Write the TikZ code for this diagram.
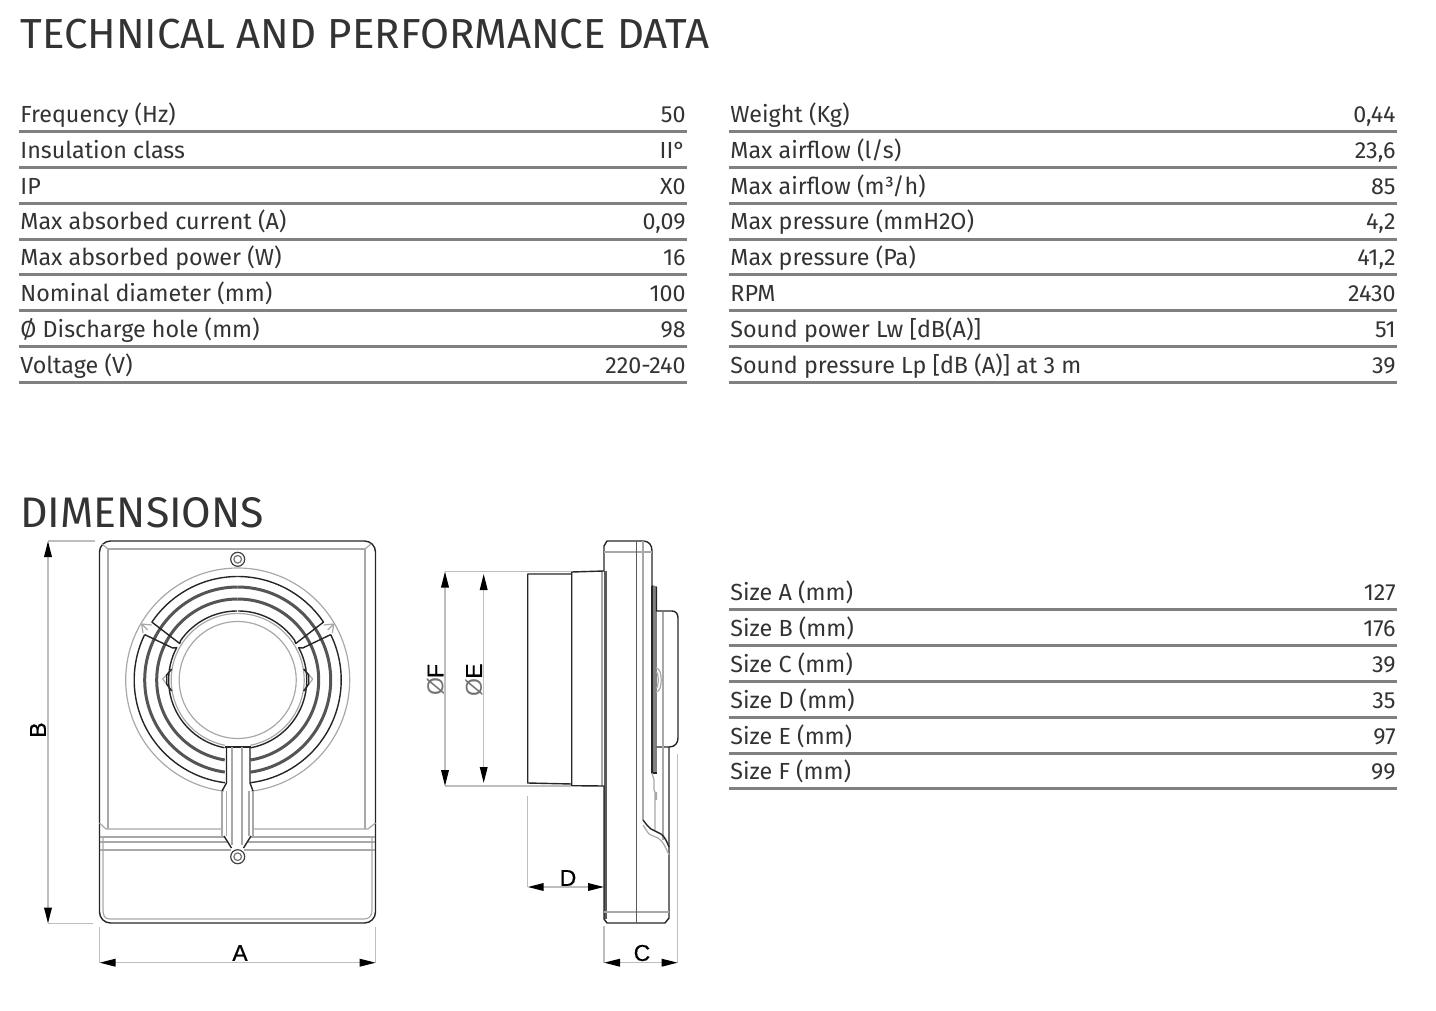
\documentclass[tikz,border=0pt]{standalone}
\usepackage{fontspec}
\setmainfont{Fira Sans}
\newfontfamily\dimfont[FakeBold=0.6]{Liberation Sans}
\newfontfamily\slashfont{Liberation Sans}
\usetikzlibrary{arrows.meta}
\definecolor{ink}{HTML}{333333}
\definecolor{rulegrey}{HTML}{808080}
\definecolor{lgrey}{HTML}{A8A8A8}
\definecolor{dimgrey}{HTML}{BEBEBE}
\definecolor{ringdark}{HTML}{555555}
\definecolor{banddark}{HTML}{5A5A5A}
\definecolor{bandmid}{HTML}{808080}
\newcommand{\rowname}[6]{%
  \node[rowlabel] (#1l) at (#2,#3+#4) {#5};
  \node[rowvalue] (#1v) at (#2+666,#3+#4) {#6};
  \coordinate (#1a) at (#2-1,#3+9.5);
  \coordinate (#1b) at (#2+667,#3+9.5);
  \draw[tablerule] (#1a) -- (#1b);
}
\tikzset{
  rowlabel/.style={anchor=base west,inner sep=0pt,text=ink,font=\fontsize{11.65}{14}\selectfont},
  rowvalue/.style={anchor=base east,inner sep=0pt,text=ink,font=\fontsize{11.65}{14}\selectfont},
  tablerule/.style={rulegrey,line width=1.5pt},
  heading/.style={anchor=base west,inner sep=0pt,text=ink,font=\fontsize{21}{24}\selectfont},
  blk/.style={black!85,line width=0.7pt,line join=round},
  gry/.style={lgrey,line width=0.6pt,line join=round},
  ring/.style={ringdark,line width=1.5pt},
  dimline/.style={dimgrey,line width=0.75pt},
  dimarrow/.style={dimline,{Triangle[length=8pt,width=3.8pt,black]}-{Triangle[length=8pt,width=3.8pt,black]}},
  dimtext/.style={inner sep=0pt,text=black,font=\dimfont\fontsize{11.5}{13}\selectfont},
}
\begin{document}
\begin{tikzpicture}[x=0.5pt,y=-0.5pt]
\useasboundingbox (0,0) rectangle (1436,1011);
\node[heading] (title) at (20,49) {TECHNICAL AND PERFORMANCE DATA};
\node[heading,font=\fontsize{21.4}{24}\selectfont] (dimtitle) at (20,527) {DIMENSIONS};
% left table
\rowname{a1}{20}{122}{0.7}{Frequency (Hz)}{50}
\rowname{a2}{20}{158}{0.7}{Insulation class}{II°}
\rowname{a3}{20}{194}{0}{IP}{X0}
\rowname{a4}{20}{230}{-0.7}{Max absorbed current (A)}{0,09}
\rowname{a5}{20}{265}{0}{Max absorbed power (W)}{16}
\rowname{a6}{20}{301}{0}{Nominal diameter (mm)}{100}
\rowname{a7}{20}{337}{0}{Ø Discharge hole (mm)}{98}
\rowname{a8}{20}{373}{0}{Voltage (V)}{220-240}
% right table
\rowname{b1}{730}{122}{0.7}{Weight (Kg)}{0,44}
\rowname{b2}{730}{158}{0.7}{Max airflow (l/s)}{23,6}
\rowname{b3}{730}{194}{0}{Max airflow (m³/h)}{85}
\rowname{b4}{730}{230}{-0.7}{Max pressure (mmH2O)}{4,2}
\rowname{b5}{730}{265}{0}{Max pressure (Pa)}{41,2}
\rowname{b6}{730}{301}{0}{RPM}{2430}
\rowname{b7}{730}{337}{0}{Sound power Lw [dB(A)]}{51}
\rowname{b8}{730}{373}{0}{Sound pressure Lp [dB (A)] at 3 m}{39}
% size table
\rowname{c1}{730}{600}{0}{Size A (mm)}{127}
\rowname{c2}{730}{636}{0}{Size B (mm)}{176}
\rowname{c3}{730}{672}{0}{Size C (mm)}{39}
\rowname{c4}{730}{708}{0}{Size D (mm)}{35}
\rowname{c5}{730}{744}{0}{Size E (mm)}{97}
\rowname{c6}{730}{779}{0}{Size F (mm)}{99}

% ---------- front view ----------
\draw[blk] (99.5,552) arc[start angle=180,end angle=270,radius=11] -- (364.5,541) arc[start angle=-90,end angle=0,radius=11] -- (375.5,912) arc[start angle=0,end angle=90,radius=11] -- (110.5,923) arc[start angle=90,end angle=180,radius=11] -- cycle;
\draw[gry] (108,549) -- (365,549) (108,549) -- (108,829) (365,549) -- (365,829);
\draw[gry] (102,544) -- (108,549) (371,544) -- (365,549);
\draw[gry] (99.5,823) -- (106,829) -- (222,829) (253,829) -- (368,829) -- (375.5,823);
\draw[gry] (100,837) -- (224,837) (251,837) -- (375,837);
\draw[gry] (100,842) -- (227,842) (248,842) -- (375,842);
\draw[gry] (100,850) -- (231,850) (244,850) -- (375,850);
\draw[gry] (103,837) -- (103,910) .. controls (103,916) and (105,919) .. (110,919) -- (364,919) .. controls (369,919) and (372,916) .. (372,910) -- (372,837);
% rings: each half drawn once, mirrored about the axis
\foreach \s in {1,-1}{
\begin{scope}[shift={(237.7,680)},xscale=\s]
  \draw[gry] (-90:112) arc[start angle=-90,end angle=83,radius=112];
  \foreach \r/\g in {93/8,81/9.2}{
    \draw[ring] (-90:\r) arc[start angle=-90,end angle=90-\g,radius=\r];
  }
  \draw[blk] (-90:103.5) arc[start angle=-90,end angle=-34,radius=103.5] -- (58,-36.5) -- (57,-39.6) arc[start angle=-35,end angle=-90,radius=69];
  \draw[blk] (-26:103.5) arc[start angle=-26,end angle=83,radius=103.5];
  \draw[blk] (93,-45.4) -- (65,-32) -- (61,-32.4) arc[start angle=-28,end angle=79,radius=69];
  \draw[gry] (-90:66.5) arc[start angle=-90,end angle=79,radius=66.5];
  % fan at the rib end
  \draw[gry] (96,-56) -- (86,-55) (96,-56) -- (90,-50) (96,-56) -- (94.7,-47);
  % side notches
  \draw[gry] (66,-11) -- (75,-1) -- (66,11);
  \draw[blk] (66,-11) -- (71,-5) -- (71,4) -- (66,11);
\end{scope}
}
\draw[gry] (237.7,680) circle[radius=58.5];
% stem
\draw[white,fill=white] (227,747) rectangle (249,800);
\draw[blk,line width=1pt] (225,747) -- (251,747);
\draw[blk] (226.5,747) -- (226.5,783) -- (222,791);
\draw[blk] (250,747) -- (250,783) -- (253,791);
\draw[gry] (232,747) -- (232,845) (242,747) -- (242,845);
\draw[gry] (222,791) -- (222,836);
\draw[gry] (253,791) -- (253,836);
\draw[gry] (226.5,791) -- (226.5,836) (249,791) -- (249,836);
\draw[blk] (224,836) -- (231.5,848);
\draw[blk] (251,836) -- (243.5,848);
% screws
\node[circle,draw=black!75,fill=white,line width=0.6pt,minimum size=7pt,inner sep=0pt] (screwtop) at (237.7,559.3) {};
\node[circle,draw=black!55,line width=0.6pt,minimum size=3.8pt,inner sep=0pt] (screwtopin) at (237.7,559.3) {};
\node[circle,draw=black!75,fill=white,line width=0.6pt,minimum size=7pt,inner sep=0pt] (screwbot) at (237.7,856.7) {};
\node[circle,draw=black!55,line width=0.6pt,minimum size=3.8pt,inner sep=0pt] (screwbotin) at (237.7,856.7) {};

% ---------- side view ----------
\draw[lgrey,line width=0.9pt] (602,572) -- (602,786);
\draw[banddark,line width=1.3pt] (605.3,571) -- (605.3,919);
\draw[blk] (604,571) -- (604,546) -- (607,541) -- (643,541) .. controls (649,541) and (652,545) .. (652,551) -- (652,586) -- (656.5,587);
\draw[blk] (604,786) -- (604,919) -- (607,923) -- (665,923) -- (669,918) -- (669,747);
\fill[bandmid] (652,586) rectangle (656.5,773);
\draw[blk] (652,586) -- (652,773) -- (656.5,773);
\draw[blk] (656.5,587) -- (656.5,611) -- (672,611) .. controls (676,611) and (678,614) .. (678,618) -- (678,738) .. controls (678,743) and (675,747) .. (669,747) -- (656.5,747);
\draw[gry] (604,552) -- (652,552);
\draw[gry] (604,912) -- (669,912);
\draw[banddark,line width=0.7pt] (636.7,541) -- (636.7,923);
\draw[gry] (643,541) -- (643,820);
\draw[gry] (652,773) -- (654,780) -- (654,790) -- (655,792) -- (655,830) (656.5,792) -- (656.5,800);
\draw[gry] (663,612) -- (663,840);
\draw[blk] (643,820) .. controls (647,825) and (648,827) .. (651,829) -- (661,834) .. controls (665,837) and (667,842) .. (669,847);
\draw[gry] (643,825) .. controls (647,831) and (648,834) .. (651,835) -- (658,838) .. controls (663,841) and (666,848) .. (669,855);
\draw[gry] (656,668) .. controls (663,668) and (663,692) .. (656,692);
\draw[gry] (656,672) .. controls (659,672) and (659,688) .. (656,688);
% neck and collar
\draw[blk] (604,571) -- (571.7,572) -- (571.7,785.7) -- (604,786);
\draw[blk] (571.7,574) -- (527.7,574) -- (527.7,783) -- (571.7,784);

% ---------- dimensions ----------
\coordinate (Al) at (99.5,962.7); \coordinate (Ar) at (375.7,962.7);
\draw[dimline] (99.5,927) -- (Al) (375.7,927) -- (Ar);
\draw[dimarrow] (Al) -- (Ar);
\node[dimtext] (Alabel) at (240,953) {A};
\coordinate (Bt) at (48,541); \coordinate (Bb) at (48,923.5);
\draw[dimline] (Bt) -- (95,541) (Bb) -- (93,923.5);
\draw[dimarrow] (Bt) -- (Bb);
\node[dimtext,rotate=90] (Blabel) at (38,730) {B};
\coordinate (Ft) at (445,571.5); \coordinate (Fb) at (445,786);
\coordinate (Et) at (483.7,574); \coordinate (Eb) at (483.7,783);
\draw[dimline] (Ft) -- (571,571.5) (Fb) -- (571,786);
\draw[dimarrow] (Ft) -- (Fb);
\draw[dimarrow] (Et) -- (Eb);
\node[dimtext,rotate=90] (Flabel) at (435.5,680) {{\slashfont\textcolor{black!55}{Ø}}F};
\node[dimtext,rotate=90] (Elabel) at (474,680) {{\slashfont\textcolor{black!55}{Ø}}E};
\coordinate (Dl) at (527.7,887); \coordinate (Dr) at (604,887);
\draw[dimline] (527.7,796) -- (Dl);
\draw[dimarrow] (Dl) -- (Dr);
\node[dimtext] (Dlabel) at (568,878) {D};
\coordinate (Cl) at (604,962.7); \coordinate (Cr) at (677.7,962.7);
\draw[dimline] (604,926) -- (Cl) (677.7,754) -- (Cr);
\draw[dimarrow] (Cl) -- (Cr);
\node[dimtext] (Clabel) at (642,953) {C};
\end{tikzpicture}
\end{document}
